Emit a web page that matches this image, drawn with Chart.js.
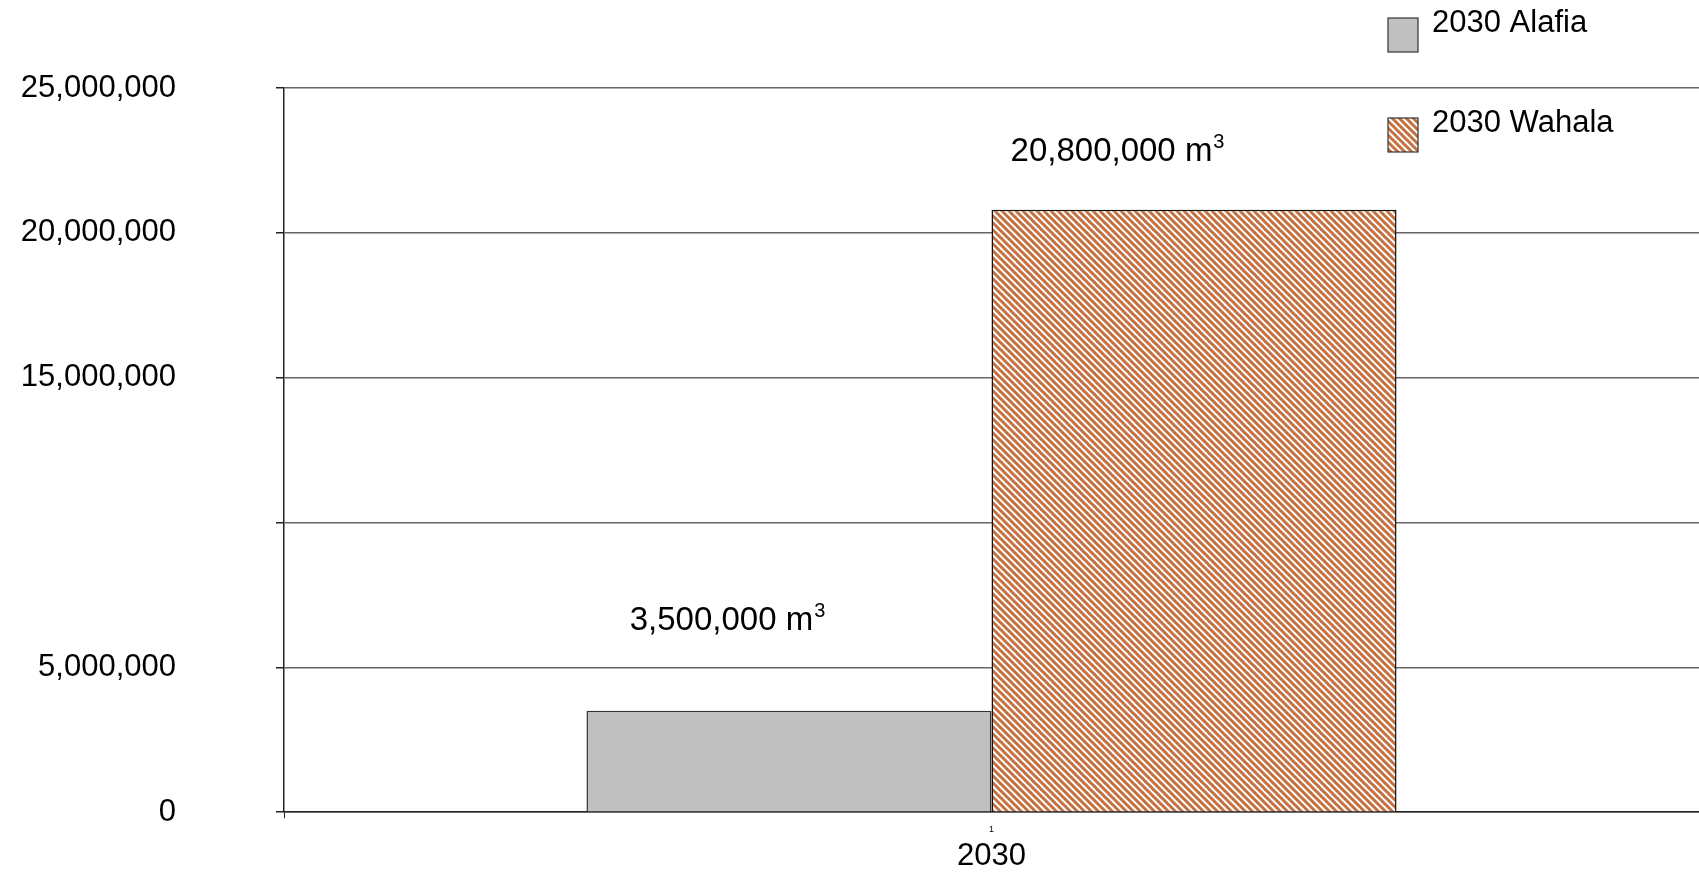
<!DOCTYPE html>
<html lang="en">
<head>
<meta charset="UTF-8">
<title>2030 Alafia / Wahala</title>
<script src="https://cdn.jsdelivr.net/npm/chart.js"></script>
<style>
  html, body { margin: 0; padding: 0; background: #fff; overflow: hidden; }
  #volumeChart { display: block; }
</style>
</head>
<body>
<canvas id="volumeChart" width="1699" height="872"></canvas>
<script>
// values
var categories = ['1'];
var axisTitle = '2030';
var seriesNames = ['2030 Alafia', '2030 Wahala'];
var alafiaValues = [3500000];
var wahalaValues = [20800000];
var valueLabels = ['3,500,000', '20,800,000'];
var yTickValues = [0, 5000000, 10000000, 15000000, 20000000, 25000000];
var yTickLabels = ['0', '5,000,000', '', '15,000,000', '20,000,000', '25,000,000'];

var FONT = '"Liberation Sans", Arial, sans-serif';
var canvas = document.getElementById('volumeChart');
var ctx = canvas.getContext('2d');

// diagonal "\" hatch used for the Wahala bar
function makeHatch() {
    var s = 7;
    var tile = document.createElement('canvas');
    tile.width = s; tile.height = s;
    var g = tile.getContext('2d');
    g.fillStyle = '#ffffff';
    g.fillRect(0, 0, s, s);
    g.strokeStyle = '#c4703f';
    g.lineWidth = 3;
    g.beginPath();
    g.moveTo(-2, -2); g.lineTo(s + 2, s + 2);
    g.moveTo(s - 2, -2); g.lineTo(s + 2, 2);
    g.moveTo(-2, s - 2); g.lineTo(2, s + 2);
    g.stroke();
    return ctx.createPattern(tile, 'repeat');
}
var hatch = makeHatch();

// legend in the top right corner, over the plot
var cornerLegend = {
    id: 'cornerLegend',
    afterDraw: function (chart) {
        var c = chart.ctx;
        c.save();
        chart.data.datasets.forEach(function (ds, i) {
            var x = 1388, y = 18 + i * 100;
            c.fillStyle = ds.backgroundColor;
            c.fillRect(x, y, 30, 34);
            c.strokeStyle = '#333';
            c.lineWidth = 1.2;
            c.strokeRect(x, y, 30, 34);
            c.fillStyle = '#000';
            c.font = '31px ' + FONT;
            c.textBaseline = 'middle';
            c.textAlign = 'left';
            c.fillText(ds.label, 1432, y + 5);
        });
        c.restore();
    }
};

// "x m3" labels above the bars
var labelShift = [[-62, -90], [-77, -58]];
var valueLabelPlugin = {
    id: 'valueLabels',
    afterDatasetsDraw: function (chart) {
        var c = chart.ctx;
        c.save();
        chart.data.datasets.forEach(function (ds, i) {
            var bar = chart.getDatasetMeta(i).data[0];
            var main = valueLabels[i] + ' m';
            c.font = '33px ' + FONT;
            var w1 = c.measureText(main).width;
            c.font = '20px ' + FONT;
            var w2 = c.measureText('3').width;
            var cx = bar.x + labelShift[i][0];
            var cy = bar.y + labelShift[i][1];
            var left = cx - (w1 + w2) / 2;
            c.fillStyle = '#000';
            c.textAlign = 'left';
            c.textBaseline = 'middle';
            c.font = '33px ' + FONT;
            c.fillText(main, left, cy);
            c.font = '20px ' + FONT;
            c.fillText('3', left + w1 + 1, cy - 9);
        });
        c.restore();
    }
};

new Chart(ctx, {
    type: 'bar',
    data: {
        labels: categories,
        datasets: [
            { label: seriesNames[0], data: alafiaValues, backgroundColor: '#c0c0c0', borderColor: '#333', borderWidth: 1.5 },
            { label: seriesNames[1], data: wahalaValues, backgroundColor: hatch, borderColor: '#111', borderWidth: 1.5 }
        ]
    },
    options: {
        responsive: false,
        animation: false,
        devicePixelRatio: 1,
        layout: { padding: { top: 88, right: 0, bottom: 0, left: 0 } },
        datasets: { bar: { barPercentage: 1, categoryPercentage: 0.5725 } },
        plugins: { legend: { display: false }, tooltip: { enabled: false } },
        scales: {
            x: {
                grid: { drawOnChartArea: false, tickLength: 6, color: '#222', offset: true },
                border: { color: '#222', width: 1.5 },
                ticks: { font: { size: 9, family: FONT }, color: '#000', padding: 6 },
                title: { display: true, text: axisTitle, color: '#000', padding: 0,
                         font: { size: 31, family: FONT, lineHeight: 1 } }
            },
            y: {
                min: 0,
                max: 25000000,
                afterBuildTicks: function (scale) {
                    scale.ticks = yTickValues.map(function (v) { return { value: v }; });
                },
                afterFit: function (scale) {
                    // fixed axis width; the big label gap must not eat vertical room
                    scale.width = 284;
                    scale.paddingTop = 0;
                    scale.paddingBottom = 0;
                },
                ticks: {
                    callback: function (v, i) { return yTickLabels[i]; },
                    font: { size: 31, family: FONT },
                    color: '#000',
                    padding: 100
                },
                grid: { color: '#666', lineWidth: 1.5, tickLength: 8, tickColor: '#222' },
                border: { color: '#222', width: 1.5 }
            }
        }
    },
    plugins: [cornerLegend, valueLabelPlugin]
});
</script>
</body>
</html>
